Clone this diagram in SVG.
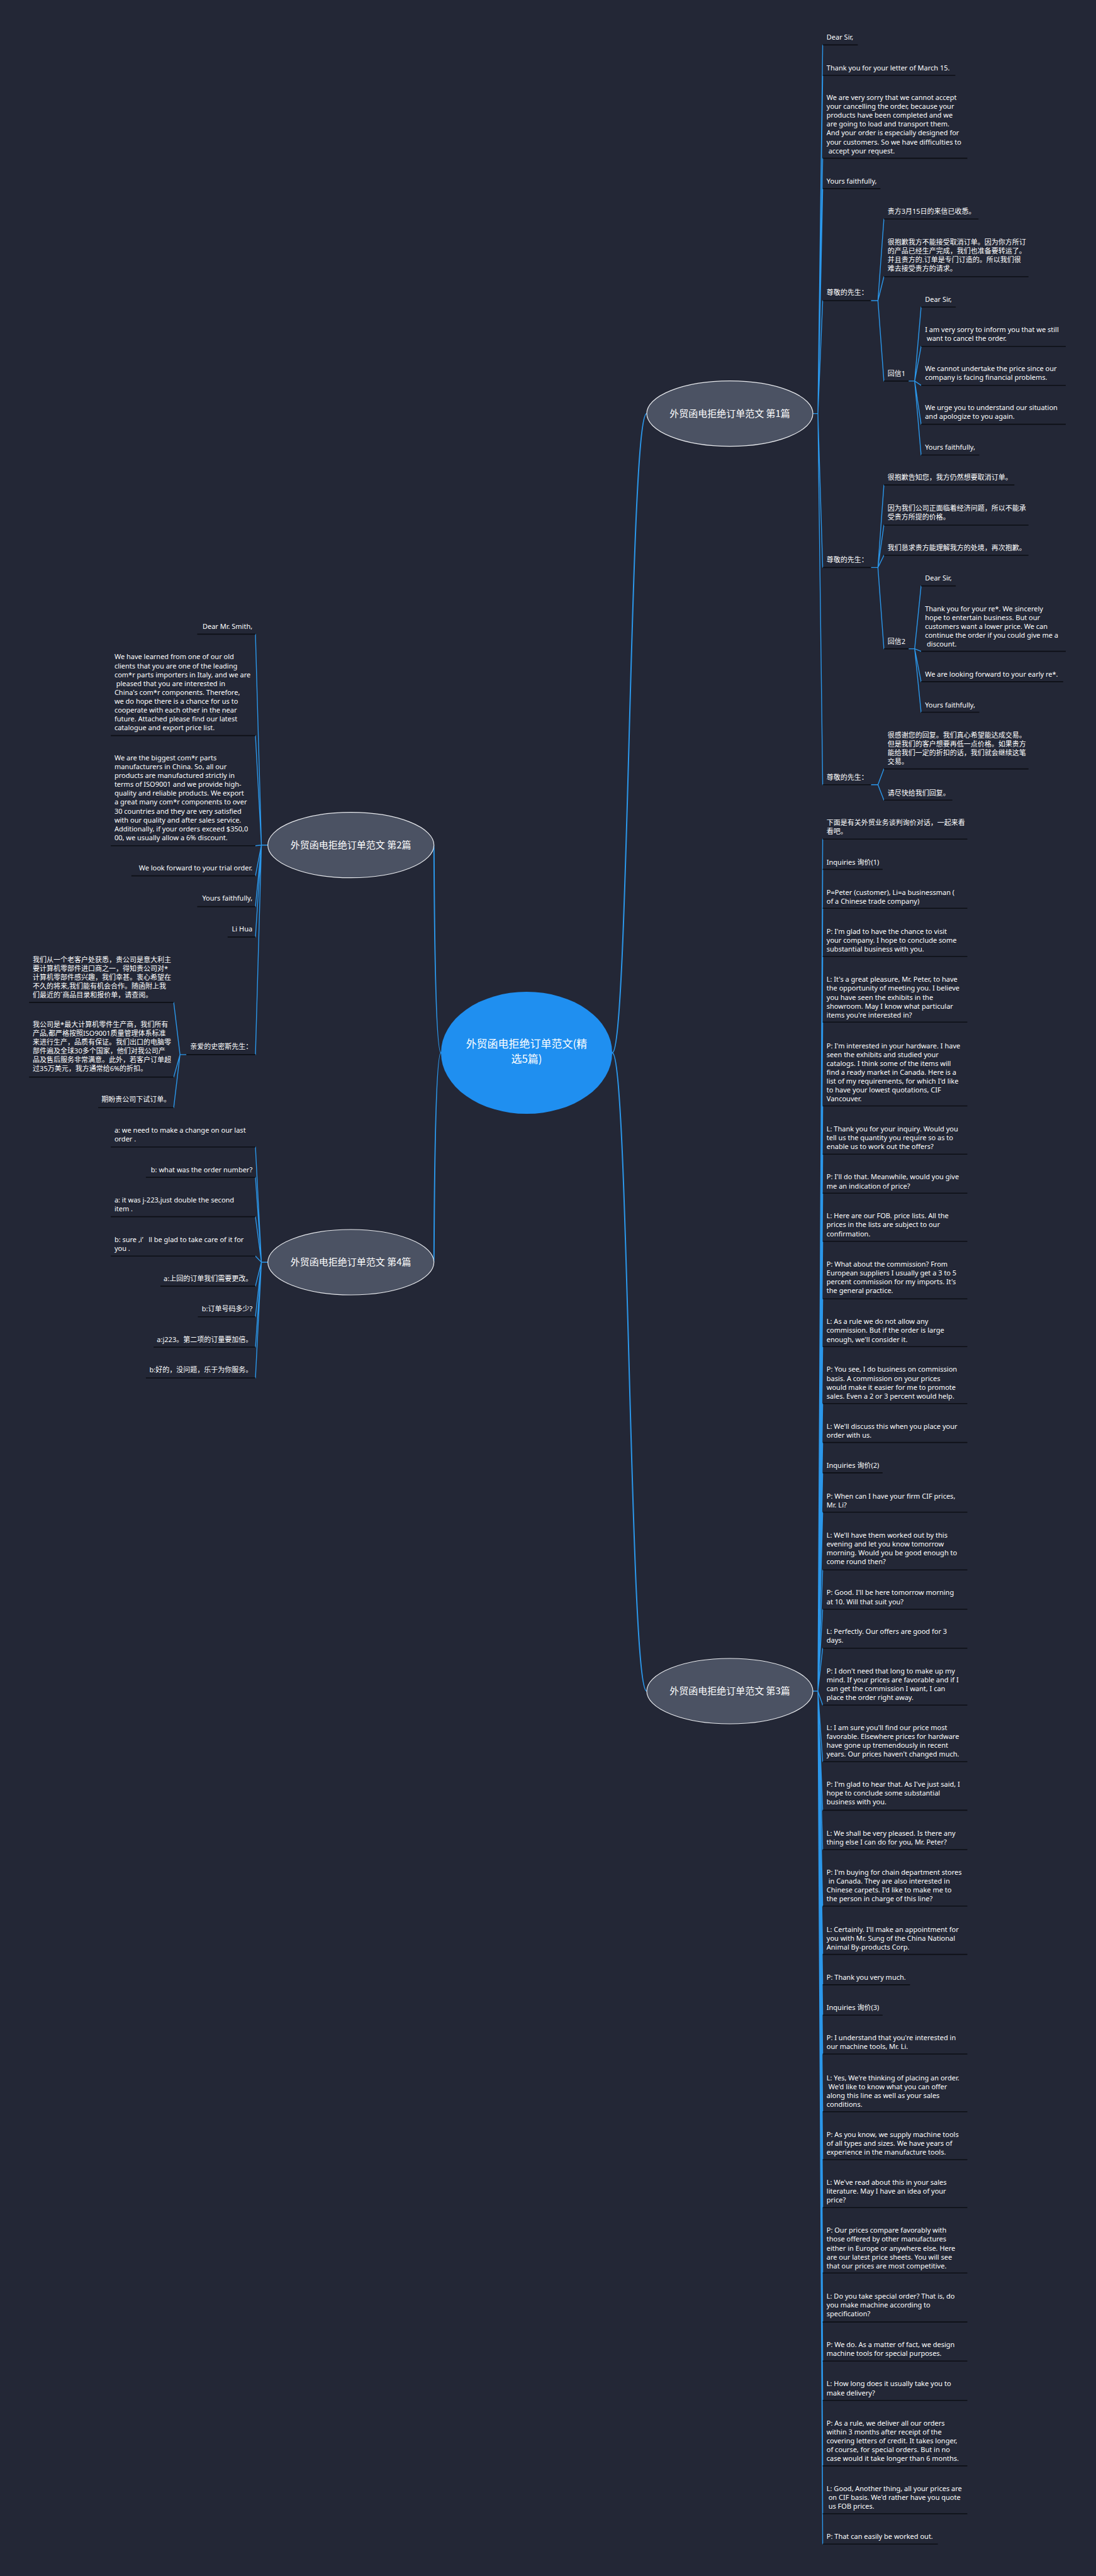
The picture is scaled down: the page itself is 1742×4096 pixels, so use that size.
<svg xmlns="http://www.w3.org/2000/svg" width="1742" height="4096" viewBox="0 0 1742 4096">
<style>
.t{font-family:"Noto Sans","Noto Sans CJK SC",sans-serif;font-size:11px;fill:#ffffff}
.e{text-anchor:end}
.u{stroke:#0d0f15;stroke-width:1.6;fill:none}
.c{stroke:#2b97ea;stroke-width:1.4;fill:none;stroke-linecap:round}
.m{stroke:#2b97ea;stroke-width:2;fill:none}
.bn{fill:#4b5263;stroke:#e8eaee;stroke-width:1.2}
.bt{font-family:"Noto Sans CJK SC","Noto Sans",sans-serif;font-size:15px;fill:#ffffff;text-anchor:middle}
.ct{font-family:"Noto Sans CJK SC","Noto Sans",sans-serif;font-size:17px;fill:#ffffff;text-anchor:middle}
</style>
<rect width="1742" height="4096" fill="#232736"/>
<g id="connectors">
<path class="m" d="M973 1674 C1000 1674 1000 657.6 1028 657.6"/>
<path class="m" d="M973 1674 C1000 1674 1000 2689 1028 2689"/>
<path class="m" d="M701 1674 C690 1674 690 1343.7 689.7 1343.7"/>
<path class="m" d="M701 1674 C690 1674 690 2007 689.7 2007"/>
<path class="c" d="M1292 657.6H1300M1300 657.6L1307.6 71.4M1300 657.6L1307.6 119.7M1300 657.6L1307.6 251.6M1300 657.6L1307.6 299.9M1300 657.6L1307.6 478M1300 657.6L1307.6 902.4M1300 657.6L1307.6 1247.8"/>
<path class="c" d="M1384.5 478H1395.4L1404.9 348.2M1395.4 478L1404.9 440M1395.4 478L1404.9 605.9"/>
<path class="c" d="M1444.3 605.9H1453.8L1464 488.2M1453.8 605.9L1464 550.8M1453.8 605.9L1464 612.7M1453.8 605.9L1464 674.6M1453.8 605.9L1464 723.5"/>
<path class="c" d="M1384.5 902.4H1395.4L1404.9 771.1M1395.4 902.4L1404.9 835M1395.4 902.4L1404.9 883M1395.4 902.4L1404.9 1031.6"/>
<path class="c" d="M1444.3 1031.6H1453.8L1464 931.6M1453.8 1031.6L1464 1035.6M1453.8 1031.6L1464 1083.9M1453.8 1031.6L1464 1132.5"/>
<path class="c" d="M1384.5 1247.8H1395.4L1404.9 1222.6M1395.4 1247.8L1404.9 1272.3"/>
<path class="c" d="M1292 2689H1300M1300 2689L1307.6 1334.2M1300 2689L1307.6 1382.4M1300 2689L1307.6 1444.3M1300 2689L1307.6 1520.8M1300 2689L1307.6 1625.2M1300 2689L1307.6 1758.5M1300 2689L1307.6 1835.3M1300 2689L1307.6 1897.2M1300 2689L1307.6 1973.7M1300 2689L1307.6 2065.2M1300 2689L1307.6 2141.3M1300 2689L1307.6 2231.8M1300 2689L1307.6 2293.6M1300 2689L1307.6 2341.9M1300 2689L1307.6 2404.5M1300 2689L1307.6 2496.3M1300 2689L1307.6 2558.8M1300 2689L1307.6 2620.7M1300 2689L1307.6 2711.2M1300 2689L1307.6 2801.3M1300 2689L1307.6 2878.4M1300 2689L1307.6 2941M1300 2689L1307.6 3030.8M1300 2689L1307.6 3107.6M1300 2689L1307.6 3155.9M1300 2689L1307.6 3204.2M1300 2689L1307.6 3266M1300 2689L1307.6 3357.8M1300 2689L1307.6 3434M1300 2689L1307.6 3510.2M1300 2689L1307.6 3614.2M1300 2689L1307.6 3692.1M1300 2689L1307.6 3754.3M1300 2689L1307.6 3816.8M1300 2689L1307.6 3920.9M1300 2689L1307.6 3997M1300 2689L1307.6 4045.3"/>
<path class="c" d="M425.7 1343.7H415.5M415.5 1343.7L406 1008.4M415.5 1343.7L406 1169.6M415.5 1343.7L406 1344.8M415.5 1343.7L406 1392.6M415.5 1343.7L406 1441.6M415.5 1343.7L406 1489.9M415.5 1343.7L406 1676.9"/>
<path class="c" d="M296.1 1676.9H286.1L276.1 1593.9M286.1 1676.9L276.1 1712.6M286.1 1676.9L276.1 1761.2"/>
<path class="c" d="M425.7 2007H415.5M415.5 2007L406 1823.8M415.5 2007L406 1872M415.5 2007L406 1934.6M415.5 2007L406 1997.2M415.5 2007L406 2045.1M415.5 2007L406 2093.7M415.5 2007L406 2142M415.5 2007L406 2191"/>
</g>
<g id="center">
<ellipse cx="837" cy="1674" rx="136" ry="97" fill="#1f8ff0"/>
<text class="ct"><tspan x="837" y="1666">外贸函电拒绝订单范文(精</tspan><tspan x="837" y="1690">选5篇)</tspan></text>
</g>
<g id="branch1">
<ellipse class="bn" cx="1160" cy="657.6" rx="132" ry="52"/>
<text class="bt" x="1160" y="662.8">外贸函电拒绝订单范文 第1篇</text>
</g>
<g id="branch2">
<ellipse class="bn" cx="557.7" cy="1343.7" rx="132" ry="52"/>
<text class="bt" x="557.7" y="1348.9">外贸函电拒绝订单范文 第2篇</text>
</g>
<g id="branch3">
<ellipse class="bn" cx="1160" cy="2689" rx="132" ry="52"/>
<text class="bt" x="1160" y="2694.2">外贸函电拒绝订单范文 第3篇</text>
</g>
<g id="branch4">
<ellipse class="bn" cx="557.7" cy="2007" rx="132" ry="52"/>
<text class="bt" x="557.7" y="2012.2">外贸函电拒绝订单范文 第4篇</text>
</g>
<g id="b1-items">
<g id="n1-1"><text class="t" x="1313.8" y="63.2">Dear Sir,</text><path class="u" d="M1307.6 71.4H1363.4"/></g>
<g id="n1-2"><text class="t" x="1313.8" y="111.5">Thank you for your letter of March 15.</text><path class="u" d="M1307.6 119.7H1518.4"/></g>
<g id="n1-3"><text class="t"><tspan x="1313.8" y="159.1">We are very sorry that we cannot accept</tspan><tspan x="1313.8" y="173.2">your cancelling the order, because your</tspan><tspan x="1313.8" y="187.3">products have been completed and we</tspan><tspan x="1313.8" y="201.3">are going to load and transport them.</tspan><tspan x="1313.8" y="215.4">And your order is especially designed for</tspan><tspan x="1313.8" y="229.5">your customers. So we have difficulties to</tspan><tspan x="1313.8" y="243.6">&#160;accept your request.</tspan></text><path class="u" d="M1307.6 251.6H1537.5"/></g>
<g id="n1-4"><text class="t" x="1313.8" y="291.7">Yours faithfully,</text><path class="u" d="M1307.6 299.9H1399.4"/></g>
<g id="n1-5"><text class="t" x="1313.8" y="469.2">尊敬的先生：</text><path class="u" d="M1307.6 478H1384.5"/></g>
<g id="n1-5a"><text class="t" x="1410.7" y="340.4">贵方3月15日的来信已收悉。</text><path class="u" d="M1404.9 348.2H1555.2"/></g>
<g id="n1-5b"><text class="t"><tspan x="1410.7" y="389">很抱歉我方不能接受取消订单。因为你方所订</tspan><tspan x="1410.7" y="403.1">的产品已经生产完成，我们也准备要转运了。</tspan><tspan x="1410.7" y="417.2">并且贵方的.订单是专门订造的。所以我们很</tspan><tspan x="1410.7" y="431.2">难去接受贵方的请求。</tspan></text><path class="u" d="M1404.9 440H1634.7"/></g>
<g id="n1-5c"><text class="t" x="1410.7" y="597.7">回信1</text><path class="u" d="M1404.9 605.9H1444.3"/></g>
<g id="n1-5c1"><text class="t" x="1470.2" y="480.1">Dear Sir,</text><path class="u" d="M1464 488.2H1519.1"/></g>
<g id="n1-5c2"><text class="t"><tspan x="1470.2" y="528">I am very sorry to inform you that we still</tspan><tspan x="1470.2" y="542.1">&#160;want to cancel the order.</tspan></text><path class="u" d="M1464 550.8H1693.9"/></g>
<g id="n1-5c3"><text class="t"><tspan x="1470.2" y="590.2">We cannot undertake the price since our</tspan><tspan x="1470.2" y="604.3">company is facing financial problems.</tspan></text><path class="u" d="M1464 612.7H1693.9"/></g>
<g id="n1-5c4"><text class="t"><tspan x="1470.2" y="652.1">We urge you to understand our situation</tspan><tspan x="1470.2" y="666.2">and apologize to you again.</tspan></text><path class="u" d="M1464 674.6H1693.9"/></g>
<g id="n1-5c5"><text class="t" x="1470.2" y="715.4">Yours faithfully,</text><path class="u" d="M1464 723.5H1556.5"/></g>
<g id="n1-6"><text class="t" x="1313.8" y="894.2">尊敬的先生：</text><path class="u" d="M1307.6 902.4H1384.5"/></g>
<g id="n1-6a"><text class="t" x="1410.7" y="763.3">很抱歉告知您，我方仍然想要取消订单。</text><path class="u" d="M1404.9 771.1H1612.3"/></g>
<g id="n1-6b"><text class="t"><tspan x="1410.7" y="811.9">因为我们公司正面临着经济问题，所以不能承</tspan><tspan x="1410.7" y="826">受贵方所提的价格。</tspan></text><path class="u" d="M1404.9 835H1634.7"/></g>
<g id="n1-6c"><text class="t" x="1410.7" y="875.2">我们恳求贵方能理解我方的处境，再次抱歉。</text><path class="u" d="M1404.9 883H1634.7"/></g>
<g id="n1-6d"><text class="t" x="1410.7" y="1024.1">回信2</text><path class="u" d="M1404.9 1031.6H1444.3"/></g>
<g id="n1-6d1"><text class="t" x="1470.2" y="923.4">Dear Sir,</text><path class="u" d="M1464 931.6H1519.1"/></g>
<g id="n1-6d2"><text class="t"><tspan x="1470.2" y="971.7">Thank you for your re*. We sincerely</tspan><tspan x="1470.2" y="985.8">hope to entertain business. But our</tspan><tspan x="1470.2" y="999.9">customers want a lower price. We can</tspan><tspan x="1470.2" y="1013.9">continue the order if you could give me a</tspan><tspan x="1470.2" y="1028">&#160;discount.</tspan></text><path class="u" d="M1464 1035.6H1693.9"/></g>
<g id="n1-6d3"><text class="t" x="1470.2" y="1075.8">We are looking forward to your early re*.</text><path class="u" d="M1464 1083.9H1689.8"/></g>
<g id="n1-6d4"><text class="t" x="1470.2" y="1124.7">Yours faithfully,</text><path class="u" d="M1464 1132.5H1556.5"/></g>
<g id="n1-7"><text class="t" x="1313.8" y="1239.6">尊敬的先生：</text><path class="u" d="M1307.6 1247.8H1384.5"/></g>
<g id="n1-7a"><text class="t"><tspan x="1410.7" y="1172.7">很感谢您的回复。我们真心希望能达成交易。</tspan><tspan x="1410.7" y="1186.8">但是我们的客户想要再低一点价格。如果贵方</tspan><tspan x="1410.7" y="1200.9">能给我们一定的折扣的话，我们就会继续这笔</tspan><tspan x="1410.7" y="1214.9">交易。</tspan></text><path class="u" d="M1404.9 1222.6H1634.7"/></g>
<g id="n1-7b"><text class="t" x="1410.7" y="1264.5">请尽快给我们回复。</text><path class="u" d="M1404.9 1272.3H1513.7"/></g>
</g>
<g id="b3-items">
<g id="n3-1"><text class="t"><tspan x="1313.8" y="1311.7">下面是有关外贸业务谈判询价对话，一起来看</tspan><tspan x="1313.8" y="1325.8">看吧。</tspan></text><path class="u" d="M1307.6 1334.2H1537.5"/></g>
<g id="n3-2"><text class="t" x="1313.8" y="1374.6">Inquiries 询价(1)</text><path class="u" d="M1307.6 1382.4H1402.8"/></g>
<g id="n3-3"><text class="t"><tspan x="1313.8" y="1422.6">P=Peter (customer), Li=a businessman (</tspan><tspan x="1313.8" y="1436.7">of a Chinese trade company)</tspan></text><path class="u" d="M1307.6 1444.3H1537.5"/></g>
<g id="n3-4"><text class="t"><tspan x="1313.8" y="1485.1">P: I'm glad to have the chance to visit</tspan><tspan x="1313.8" y="1499.2">your company. I hope to conclude some</tspan><tspan x="1313.8" y="1513.3">substantial business with you.</tspan></text><path class="u" d="M1307.6 1520.8H1537.5"/></g>
<g id="n3-5"><text class="t"><tspan x="1313.8" y="1561.3">L: It's a great pleasure, Mr. Peter, to have</tspan><tspan x="1313.8" y="1575.4">the opportunity of meeting you. I believe</tspan><tspan x="1313.8" y="1589.5">you have seen the exhibits in the</tspan><tspan x="1313.8" y="1603.5">showroom. May I know what particular</tspan><tspan x="1313.8" y="1617.6">items you're interested in?</tspan></text><path class="u" d="M1307.6 1625.2H1537.5"/></g>
<g id="n3-6"><text class="t"><tspan x="1313.8" y="1666.7">P: I'm interested in your hardware. I have</tspan><tspan x="1313.8" y="1680.8">seen the exhibits and studied your</tspan><tspan x="1313.8" y="1694.9">catalogs. I think some of the items will</tspan><tspan x="1313.8" y="1708.9">find a ready market in Canada. Here is a</tspan><tspan x="1313.8" y="1723">list of my requirements, for which I'd like</tspan><tspan x="1313.8" y="1737.1">to have your lowest quotations, CIF</tspan><tspan x="1313.8" y="1751.2">Vancouver.</tspan></text><path class="u" d="M1307.6 1758.5H1537.5"/></g>
<g id="n3-7"><text class="t"><tspan x="1313.8" y="1799.1">L: Thank you for your inquiry. Would you</tspan><tspan x="1313.8" y="1813.2">tell us the quantity you require so as to</tspan><tspan x="1313.8" y="1827.3">enable us to work out the offers?</tspan></text><path class="u" d="M1307.6 1835.3H1537.5"/></g>
<g id="n3-8"><text class="t"><tspan x="1313.8" y="1875.4">P: I'll do that. Meanwhile, would you give</tspan><tspan x="1313.8" y="1889.5">me an indication of price?</tspan></text><path class="u" d="M1307.6 1897.2H1537.5"/></g>
<g id="n3-9"><text class="t"><tspan x="1313.8" y="1937.3">L: Here are our FOB. price lists. All the</tspan><tspan x="1313.8" y="1951.4">prices in the lists are subject to our</tspan><tspan x="1313.8" y="1965.5">confirmation.</tspan></text><path class="u" d="M1307.6 1973.7H1537.5"/></g>
<g id="n3-10"><text class="t"><tspan x="1313.8" y="2013.5">P: What about the commission? From</tspan><tspan x="1313.8" y="2027.6">European suppliers I usually get a 3 to 5</tspan><tspan x="1313.8" y="2041.7">percent commission for my imports. It's</tspan><tspan x="1313.8" y="2055.7">the general practice.</tspan></text><path class="u" d="M1307.6 2065.2H1537.5"/></g>
<g id="n3-11"><text class="t"><tspan x="1313.8" y="2105.3">L: As a rule we do not allow any</tspan><tspan x="1313.8" y="2119.4">commission. But if the order is large</tspan><tspan x="1313.8" y="2133.5">enough, we'll consider it.</tspan></text><path class="u" d="M1307.6 2141.3H1537.5"/></g>
<g id="n3-12"><text class="t"><tspan x="1313.8" y="2181.4">P: You see, I do business on commission</tspan><tspan x="1313.8" y="2195.5">basis. A commission on your prices</tspan><tspan x="1313.8" y="2209.6">would make it easier for me to promote</tspan><tspan x="1313.8" y="2223.6">sales. Even a 2 or 3 percent would help.</tspan></text><path class="u" d="M1307.6 2231.8H1537.5"/></g>
<g id="n3-13"><text class="t"><tspan x="1313.8" y="2271.9">L: We'll discuss this when you place your</tspan><tspan x="1313.8" y="2286">order with us.</tspan></text><path class="u" d="M1307.6 2293.6H1537.5"/></g>
<g id="n3-14"><text class="t" x="1313.8" y="2334.4">Inquiries 询价(2)</text><path class="u" d="M1307.6 2341.9H1402.8"/></g>
<g id="n3-15"><text class="t"><tspan x="1313.8" y="2382.5">P: When can I have your firm CIF prices,</tspan><tspan x="1313.8" y="2396.6">Mr. Li?</tspan></text><path class="u" d="M1307.6 2404.5H1537.5"/></g>
<g id="n3-16"><text class="t"><tspan x="1313.8" y="2444.6">L: We'll have them worked out by this</tspan><tspan x="1313.8" y="2458.7">evening and let you know tomorrow</tspan><tspan x="1313.8" y="2472.8">morning. Would you be good enough to</tspan><tspan x="1313.8" y="2486.8">come round then?</tspan></text><path class="u" d="M1307.6 2496.3H1537.5"/></g>
<g id="n3-17"><text class="t"><tspan x="1313.8" y="2536.4">P: Good. I'll be here tomorrow morning</tspan><tspan x="1313.8" y="2550.5">at 10. Will that suit you?</tspan></text><path class="u" d="M1307.6 2558.8H1537.5"/></g>
<g id="n3-18"><text class="t"><tspan x="1313.8" y="2598.3">L: Perfectly. Our offers are good for 3</tspan><tspan x="1313.8" y="2612.4">days.</tspan></text><path class="u" d="M1307.6 2620.7H1537.5"/></g>
<g id="n3-19"><text class="t"><tspan x="1313.8" y="2660.8">P: I don't need that long to make up my</tspan><tspan x="1313.8" y="2674.9">mind. If your prices are favorable and if I</tspan><tspan x="1313.8" y="2689">can get the commission I want, I can</tspan><tspan x="1313.8" y="2703">place the order right away.</tspan></text><path class="u" d="M1307.6 2711.2H1537.5"/></g>
<g id="n3-20"><text class="t"><tspan x="1313.8" y="2751">L: I am sure you'll find our price most</tspan><tspan x="1313.8" y="2765.1">favorable. Elsewhere prices for hardware</tspan><tspan x="1313.8" y="2779.2">have gone up tremendously in recent</tspan><tspan x="1313.8" y="2793.2">years. Our prices haven't changed much.</tspan></text><path class="u" d="M1307.6 2801.3H1537.5"/></g>
<g id="n3-21"><text class="t"><tspan x="1313.8" y="2841">P: I'm glad to hear that. As I've just said, I</tspan><tspan x="1313.8" y="2855.1">hope to conclude some substantial</tspan><tspan x="1313.8" y="2869.2">business with you.</tspan></text><path class="u" d="M1307.6 2878.4H1537.5"/></g>
<g id="n3-22"><text class="t"><tspan x="1313.8" y="2918.9">L: We shall be very pleased. Is there any</tspan><tspan x="1313.8" y="2933">thing else I can do for you, Mr. Peter?</tspan></text><path class="u" d="M1307.6 2941H1537.5"/></g>
<g id="n3-23"><text class="t"><tspan x="1313.8" y="2981.1">P: I'm buying for chain department stores</tspan><tspan x="1313.8" y="2995.2">&#160;in Canada. They are also interested in</tspan><tspan x="1313.8" y="3009.3">Chinese carpets. I'd like to make me to</tspan><tspan x="1313.8" y="3023.3">the person in charge of this line?</tspan></text><path class="u" d="M1307.6 3030.8H1537.5"/></g>
<g id="n3-24"><text class="t"><tspan x="1313.8" y="3071.6">L: Certainly. I'll make an appointment for</tspan><tspan x="1313.8" y="3085.7">you with Mr. Sung of the China National</tspan><tspan x="1313.8" y="3099.8">Animal By-products Corp.</tspan></text><path class="u" d="M1307.6 3107.6H1537.5"/></g>
<g id="n3-25"><text class="t" x="1313.8" y="3147.7">P: Thank you very much.</text><path class="u" d="M1307.6 3155.9H1446.4"/></g>
<g id="n3-26"><text class="t" x="1313.8" y="3196">Inquiries 询价(3)</text><path class="u" d="M1307.6 3204.2H1402.8"/></g>
<g id="n3-27"><text class="t"><tspan x="1313.8" y="3244.3">P: I understand that you're interested in</tspan><tspan x="1313.8" y="3258.4">our machine tools, Mr. Li.</tspan></text><path class="u" d="M1307.6 3266H1537.5"/></g>
<g id="n3-28"><text class="t"><tspan x="1313.8" y="3307.5">L: Yes, We're thinking of placing an order.</tspan><tspan x="1313.8" y="3321.6">&#160;We'd like to know what you can offer</tspan><tspan x="1313.8" y="3335.7">along this line as well as your sales</tspan><tspan x="1313.8" y="3349.7">conditions.</tspan></text><path class="u" d="M1307.6 3357.8H1537.5"/></g>
<g id="n3-29"><text class="t"><tspan x="1313.8" y="3398">P: As you know, we supply machine tools</tspan><tspan x="1313.8" y="3412.1">of all types and sizes. We have years of</tspan><tspan x="1313.8" y="3426.2">experience in the manufacture tools.</tspan></text><path class="u" d="M1307.6 3434H1537.5"/></g>
<g id="n3-30"><text class="t"><tspan x="1313.8" y="3474.1">L: We've read about this in your sales</tspan><tspan x="1313.8" y="3488.2">literature. May I have an idea of your</tspan><tspan x="1313.8" y="3502.3">price?</tspan></text><path class="u" d="M1307.6 3510.2H1537.5"/></g>
<g id="n3-31"><text class="t"><tspan x="1313.8" y="3550.3">P: Our prices compare favorably with</tspan><tspan x="1313.8" y="3564.4">those offered by other manufactures</tspan><tspan x="1313.8" y="3578.5">either in Europe or anywhere else. Here</tspan><tspan x="1313.8" y="3592.5">are our latest price sheets. You will see</tspan><tspan x="1313.8" y="3606.6">that our prices are most competitive.</tspan></text><path class="u" d="M1307.6 3614.2H1537.5"/></g>
<g id="n3-32"><text class="t"><tspan x="1313.8" y="3655">L: Do you take special order? That is, do</tspan><tspan x="1313.8" y="3669.1">you make machine according to</tspan><tspan x="1313.8" y="3683.2">specification?</tspan></text><path class="u" d="M1307.6 3692.1H1537.5"/></g>
<g id="n3-33"><text class="t"><tspan x="1313.8" y="3731.8">P: We do. As a matter of fact, we design</tspan><tspan x="1313.8" y="3745.9">machine tools for special purposes.</tspan></text><path class="u" d="M1307.6 3754.3H1537.5"/></g>
<g id="n3-34"><text class="t"><tspan x="1313.8" y="3794.4">L: How long does it usually take you to</tspan><tspan x="1313.8" y="3808.5">make delivery?</tspan></text><path class="u" d="M1307.6 3816.8H1537.5"/></g>
<g id="n3-35"><text class="t"><tspan x="1313.8" y="3857">P: As a rule, we deliver all our orders</tspan><tspan x="1313.8" y="3871.1">within 3 months after receipt of the</tspan><tspan x="1313.8" y="3885.2">covering letters of credit. It takes longer,</tspan><tspan x="1313.8" y="3899.2">of course, for special orders. But in no</tspan><tspan x="1313.8" y="3913.3">case would it take longer than 6 months.</tspan></text><path class="u" d="M1307.6 3920.9H1537.5"/></g>
<g id="n3-36"><text class="t"><tspan x="1313.8" y="3961">L: Good, Another thing, all your prices are</tspan><tspan x="1313.8" y="3975.1">&#160;on CIF basis. We'd rather have you quote</tspan><tspan x="1313.8" y="3989.2">&#160;us FOB prices.</tspan></text><path class="u" d="M1307.6 3997H1537.5"/></g>
<g id="n3-37"><text class="t" x="1313.8" y="4037.2">P: That can easily be worked out.</text><path class="u" d="M1307.6 4045.3H1490.6"/></g>
</g>
<g id="b2-items">
<g id="n2-1"><text class="t e" x="401.2" y="1000.3">Dear Mr. Smith,</text><path class="u" d="M313.5 1008.4H406"/></g>
<g id="n2-2"><text class="t"><tspan x="181.9" y="1048.4">We have learned from one of our old</tspan><tspan x="181.9" y="1062.5">clients that you are one of the leading</tspan><tspan x="181.9" y="1076.6">com*r parts importers in Italy, and we are</tspan><tspan x="181.9" y="1090.6">&#160;pleased that you are interested in</tspan><tspan x="181.9" y="1104.7">China's com*r components. Therefore,</tspan><tspan x="181.9" y="1118.8">we do hope there is a chance for us to</tspan><tspan x="181.9" y="1132.9">cooperate with each other in the near</tspan><tspan x="181.9" y="1146.9">future. Attached please find our latest</tspan><tspan x="181.9" y="1161">catalogue and export price list.</tspan></text><path class="u" d="M176.1 1169.6H406"/></g>
<g id="n2-3"><text class="t"><tspan x="181.9" y="1209">We are the biggest com*r parts</tspan><tspan x="181.9" y="1223.1">manufacturers in China. So, all our</tspan><tspan x="181.9" y="1237.2">products are manufactured strictly in</tspan><tspan x="181.9" y="1251.2">terms of ISO9001 and we provide high-</tspan><tspan x="181.9" y="1265.3">quality and reliable products. We export</tspan><tspan x="181.9" y="1279.4">a great many com*r components to over</tspan><tspan x="181.9" y="1293.5">30 countries and they are very satisfied</tspan><tspan x="181.9" y="1307.5">with our quality and after sales service.</tspan><tspan x="181.9" y="1321.6">Additionally, if your orders exceed $350,0</tspan><tspan x="181.9" y="1335.7">00, we usually allow a 6% discount.</tspan></text><path class="u" d="M176.1 1344.8H406"/></g>
<g id="n2-4"><text class="t e" x="401.2" y="1384.1">We look forward to your trial order.</text><path class="u" d="M208.8 1392.6H406"/></g>
<g id="n2-5"><text class="t e" x="401.2" y="1432.1">Yours faithfully,</text><path class="u" d="M313.5 1441.6H406"/></g>
<g id="n2-6"><text class="t e" x="401.2" y="1481">Li Hua</text><path class="u" d="M361.8 1489.9H406"/></g>
<g id="n2-7"><text class="t e" x="401.2" y="1668">亲爱的史密斯先生：</text><path class="u" d="M296.1 1676.9H406"/></g>
<g id="n2-7a"><text class="t"><tspan x="52.1" y="1529.7">我们从一个老客户处获悉，贵公司是意大利主</tspan><tspan x="52.1" y="1543.8">要计算机零部件进口商之一，得知贵公司对*</tspan><tspan x="52.1" y="1557.9">计算机零部件感兴趣，我们幸甚。衷心希望在</tspan><tspan x="52.1" y="1571.9">不久的将来,我们能有机会合作。随函附上我</tspan><tspan x="52.1" y="1586">们最近的`商品目录和报价单，请查阅。</tspan></text><path class="u" d="M46.2 1593.9H276.1"/></g>
<g id="n2-7b"><text class="t"><tspan x="52.1" y="1633">我公司是*最大计算机零件生产商，我们所有</tspan><tspan x="52.1" y="1647.1">产品,都严格按照ISO9001质量管理体系标准</tspan><tspan x="52.1" y="1661.2">来进行生产，品质有保证。我们出口的电脑零</tspan><tspan x="52.1" y="1675.2">部件遍及全球30多个国家，他们对我公司产</tspan><tspan x="52.1" y="1689.3">品及售后服务非常满意。此外，若客户订单超</tspan><tspan x="52.1" y="1703.4">过35万美元，我方通常给6%的折扣。</tspan></text><path class="u" d="M46.2 1712.6H276.1"/></g>
<g id="n2-7c"><text class="t e" x="271.3" y="1752.4">期盼贵公司下试订单。</text><path class="u" d="M156.1 1761.2H276.1"/></g>
</g>
<g id="b4-items">
<g id="n4-1"><text class="t"><tspan x="181.9" y="1800.6">a: we need to make a change on our last</tspan><tspan x="181.9" y="1814.7">order .</tspan></text><path class="u" d="M176.1 1823.8H406"/></g>
<g id="n4-2"><text class="t e" x="401.2" y="1863.9">b: what was the order number?</text><path class="u" d="M231.9 1872H406"/></g>
<g id="n4-3"><text class="t"><tspan x="181.9" y="1911.5">a: it was j-223,just double the second</tspan><tspan x="181.9" y="1925.6">item .</tspan></text><path class="u" d="M176.1 1934.6H406"/></g>
<g id="n4-4"><text class="t"><tspan x="181.9" y="1974.7">b: sure ,i’&#160;&#160; ll be glad to take care of it for</tspan><tspan x="181.9" y="1988.8">you .</tspan></text><path class="u" d="M176.1 1997.2H406"/></g>
<g id="n4-5"><text class="t e" x="401.2" y="2036.6">a:上回的订单我们需要更改。</text><path class="u" d="M255 2045.1H406"/></g>
<g id="n4-6"><text class="t e" x="401.2" y="2085.3">b:订单号码多少?</text><path class="u" d="M314.5 2093.7H406"/></g>
<g id="n4-7"><text class="t e" x="401.2" y="2133.8">a:j223。第二项的订量要加倍。</text><path class="u" d="M244.1 2142H406"/></g>
<g id="n4-8"><text class="t e" x="401.2" y="2182.1">b:好的，没问题，乐于为你服务。</text><path class="u" d="M231.9 2191H406"/></g>
</g>
</svg>
